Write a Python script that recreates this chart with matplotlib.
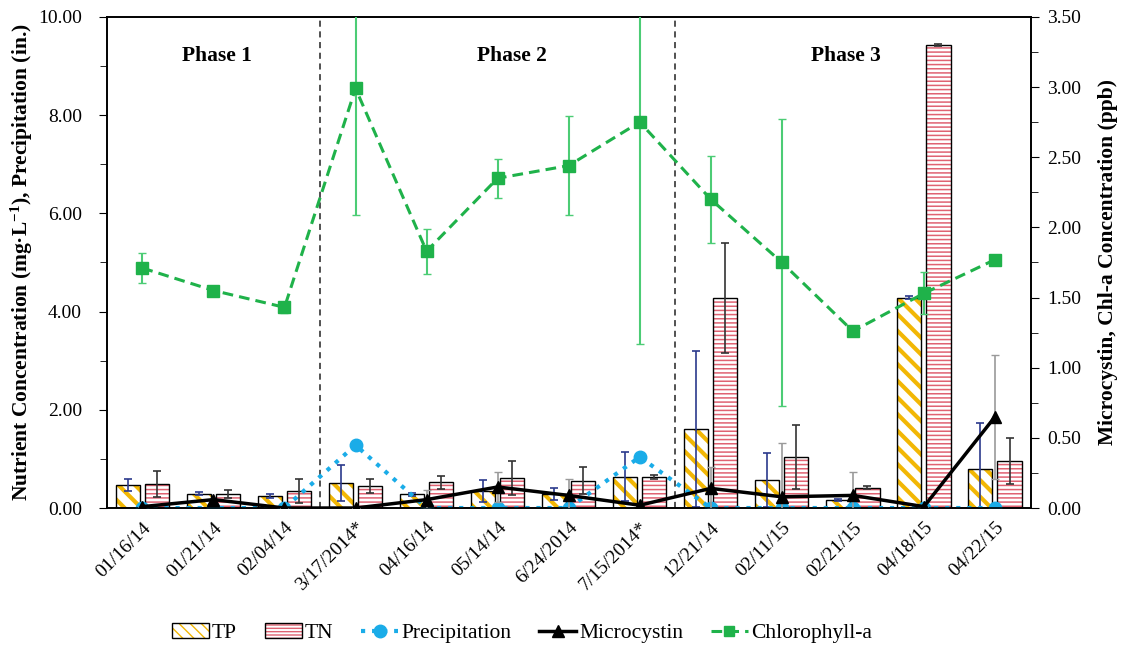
import numpy as np
import matplotlib
matplotlib.use("Agg")
import matplotlib.pyplot as plt
from matplotlib.patches import Patch
from matplotlib.lines import Line2D
from matplotlib.legend_handler import HandlerTuple
from matplotlib.ticker import MultipleLocator, FormatStrFormatter

plt.rcParams["font.family"] = ["Liberation Serif", "DejaVu Serif"]
plt.rcParams["mathtext.fontset"] = "custom"
plt.rcParams["mathtext.rm"] = "Liberation Serif:bold"
plt.rcParams["mathtext.it"] = "Liberation Serif:bold"
plt.rcParams["mathtext.bf"] = "Liberation Serif:bold"

dates = ["01/16/14", "01/21/14", "02/04/14", "3/17/2014*", "04/16/14", "05/14/14",
         "6/24/2014", "7/15/2014*", "12/21/14", "02/11/15", "02/21/15", "04/18/15", "04/22/15"]

# nutrients (mg/L) and precipitation (in.), left axis
tp = [0.47, 0.29, 0.25, 0.51, 0.28, 0.35, 0.29, 0.64, 1.61, 0.57, 0.16, 4.28, 0.79]
tp_err = [0.12, 0.03, 0.04, 0.37, 0.03, 0.22, 0.12, 0.50, 1.59, 0.55, 0.02, 0.03, 0.94]
tn = [0.49, 0.28, 0.35, 0.45, 0.52, 0.61, 0.56, 0.64, 4.28, 1.04, 0.41, 9.43, 0.96]
tn_err = [0.27, 0.08, 0.24, 0.15, 0.13, 0.35, 0.28, 0.04, 1.12, 0.65, 0.03, 0.02, 0.47]
precip = [0, 0, 0, 1.28, 0, 0, 0, 1.04, 0, 0, 0, 0, 0]

# microcystin and chlorophyll-a (ppb), right axis
mc = [0.01, 0.06, 0.0, 0.0, 0.06, 0.15, 0.09, 0.02, 0.14, 0.08, 0.09, 0.01, 0.65]
mc_err = [0.0, 0.0, 0.0, 0.0, 0.07, 0.11, 0.12, 0.0, 0.15, 0.38, 0.17, 0.0, 0.44]
chla = [1.71, 1.55, 1.43, 2.99, 1.83, 2.35, 2.44, 2.75, 2.20, 1.75, 1.26, 1.53, 1.77]
chla_err = [0.11, 0.0, 0.04, 0.90, 0.16, 0.14, 0.35, 1.58, 0.31, 1.02, 0.0, 0.15, 0.0]

phases = ["Phase 1", "Phase 2", "Phase 3"]
phase_x = [1.05, 5.2, 9.9]
phase_breaks = [3, 8]

gold = "#f2b705"
red = "#e06272"
blue = "#1aace8"
green = "#1fb24a"

x = np.arange(len(dates))
w = 0.34
off = 0.205

fig = plt.figure(figsize=(11.25, 6.48), dpi=100)
ax = fig.add_axes([0.095, 0.216, 0.821, 0.758])
ax2 = ax.twinx()

# TP bars: gold diagonal hatch, black outline
with plt.rc_context({"hatch.linewidth": 3.0}):
    ax.bar(x - off, tp, w, color="white", edgecolor=gold, hatch="\\\\", linewidth=0, zorder=2)
ax.bar(x - off, tp, w, fill=False, edgecolor="black", linewidth=1.0, zorder=3)
ax.errorbar(x - off, tp, yerr=tp_err, fmt="none", ecolor="#2b3a8c", elinewidth=1.2,
            capsize=3, capthick=1.2, zorder=4)

# TN bars: thin red horizontal lines
with plt.rc_context({"hatch.linewidth": 1.1}):
    ax.bar(x + off, tn, w, color="white", edgecolor=red, hatch="----", linewidth=0, zorder=2)
ax.bar(x + off, tn, w, fill=False, edgecolor="black", linewidth=1.0, zorder=3)
ax.errorbar(x + off, tn, yerr=tn_err, fmt="none", ecolor="#333333", elinewidth=1.2,
            capsize=3, capthick=1.2, zorder=4)

ax.plot(x, precip, linestyle=":", color=blue, linewidth=3, marker="o", markersize=9,
        zorder=5)

for b in phase_breaks:
    ax.axvline(b - 0.5, color="#222222", linestyle=(0, (4, 3)), linewidth=1.1, zorder=1)

ax.set_xlim(-0.5, len(dates) - 0.5)
ax.set_ylim(0, 10)
ax.yaxis.set_major_locator(MultipleLocator(2))
ax.yaxis.set_minor_locator(MultipleLocator(1))
ax.yaxis.set_major_formatter(FormatStrFormatter("%.2f"))
ax.set_xticks(x)
ax.set_xticklabels(dates, rotation=45, ha="right", rotation_mode="anchor")
ax.tick_params(axis="x", length=0, labelsize=14, pad=8)
ax.tick_params(axis="y", which="major", direction="out", length=6, labelsize=14, pad=12)
ax.tick_params(axis="y", which="minor", direction="out", length=5)
ax.set_ylabel("Nutrient Concentration (mg·L$^{-1}$), Precipitation (in.)",
              fontsize=15.5, fontweight="bold", labelpad=2)

# right axis series
ax2.errorbar(x, mc, yerr=mc_err, fmt="none", ecolor="#9a9a9a", elinewidth=1.2,
             capsize=3, zorder=3)
ax2.plot(x, mc, color="black", linewidth=2.5, marker="^", markersize=8, zorder=4)
ax2.errorbar(x, chla, yerr=chla_err, fmt="none", ecolor="#4ccc75", elinewidth=1.5,
             capsize=3, zorder=3)
ax2.plot(x, chla, color=green, linestyle=(0, (3.5, 2)), linewidth=2.2, marker="s",
         markersize=8, zorder=4)

ax2.set_ylim(0, 3.5)
ax2.yaxis.set_major_locator(MultipleLocator(0.5))
ax2.yaxis.set_minor_locator(MultipleLocator(0.25))
ax2.yaxis.set_major_formatter(FormatStrFormatter("%.2f"))
ax2.tick_params(axis="y", which="major", direction="out", length=6, labelsize=14, pad=6)
ax2.tick_params(axis="y", which="minor", direction="out", length=5)
ax2.set_ylabel("Microcystin, Chl-a Concentration (ppb)", fontsize=15.5,
               fontweight="bold", labelpad=12)

for s in ["top", "left", "right", "bottom"]:
    ax.spines[s].set_linewidth(1.2)
    ax2.spines[s].set_linewidth(1.2)

for name, px in zip(phases, phase_x):
    ax.text(px, 9.2, name, ha="center", va="center", fontsize=15.5, fontweight="bold")

# legend: hatched swatches with a black outline laid over them
outline = Patch(fill=False, edgecolor="black", linewidth=1.0)
handles = [
    (Patch(facecolor="white", edgecolor=gold, hatch="\\\\\\", linewidth=0), outline),
    (Patch(facecolor="white", edgecolor=red, hatch="-----", linewidth=0), outline),
    Line2D([], [], linestyle=":", color=blue, linewidth=3, marker="o", markersize=9),
    Line2D([], [], color="black", linewidth=2.5, marker="^", markersize=8),
    Line2D([], [], color=green, linestyle=(0, (3.5, 2)), linewidth=2.2, marker="s",
           markersize=7),
]
labels = ["TP", "TN", "Precipitation", "Microcystin", "Chlorophyll-a"]
fig.legend(handles, labels, loc="center", bbox_to_anchor=(0.464, 0.023), ncol=5,
           frameon=False, fontsize=15.5, handlelength=1.7, handletextpad=0.15,
           columnspacing=1.3, handler_map={tuple: HandlerTuple(ndivide=1)})

fig.savefig("out.png", dpi=100)
